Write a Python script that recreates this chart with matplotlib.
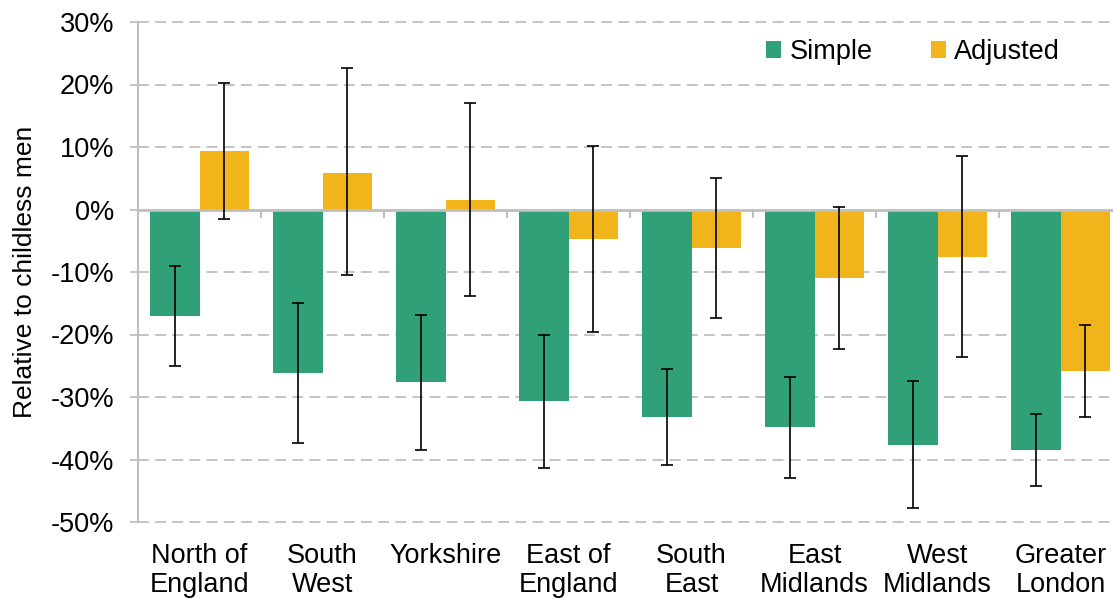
import matplotlib
matplotlib.use("Agg")
import matplotlib.pyplot as plt
import numpy as np

plt.rcParams['font.family'] = ['Liberation Sans', 'DejaVu Sans']

categories = ["North of\nEngland", "South\nWest", "Yorkshire", "East of\nEngland",
              "South\nEast", "East\nMidlands", "West\nMidlands", "Greater\nLondon"]
simple = [-17.0, -26.1, -27.6, -30.6, -33.2, -34.8, -37.7, -38.5]
simple_hi = [-9.0, -14.9, -16.8, -20.0, -25.5, -26.8, -27.4, -32.7]
simple_lo = [-25.0, -37.4, -38.4, -41.4, -40.9, -42.9, -47.8, -44.3]
adjusted = [9.3, 5.9, 1.6, -4.7, -6.1, -10.9, -7.6, -25.8]
adjusted_hi = [20.3, 22.6, 17.1, 10.2, 5.0, 0.4, 8.5, -18.4]
adjusted_lo = [-1.5, -10.5, -13.8, -19.6, -17.3, -22.3, -23.6, -33.2]
yticks = [30, 20, 10, 0, -10, -20, -30, -40, -50]

GREEN = "#30A077"
YELLOW = "#F1B51B"
GRID = "#BFBFBF"
FS = 19.5

W, H = 1113, 598
fig = plt.figure(figsize=(W/100, H/100), dpi=100)
left, right, top, bottom = 138, 1122, 22, 522
ax = fig.add_axes([left/W, 1-bottom/H, (right-left)/W, (bottom-top)/H])

x = np.arange(len(categories))
bw = 0.4
s = np.array(simple); a = np.array(adjusted)
ax.bar(x-bw/2, s, bw, color=GREEN, label="Simple", zorder=2)
ax.bar(x+bw/2, a, bw, color=YELLOW, label="Adjusted", zorder=2)

ax.errorbar(x-bw/2, s, yerr=[s-np.array(simple_lo), np.array(simple_hi)-s], fmt='none',
            ecolor='black', elinewidth=1.2, capsize=4.3, capthick=1.2, zorder=4)
ax.errorbar(x+bw/2, a, yerr=[a-np.array(adjusted_lo), np.array(adjusted_hi)-a], fmt='none',
            ecolor='black', elinewidth=1.2, capsize=4.3, capthick=1.2, zorder=4)

ax.set_xlim(-0.5, len(categories)-0.5)
ax.set_ylim(-50, 30)
ax.set_yticks(yticks)
ax.set_yticklabels([f"{t}%" for t in yticks])
for t in yticks:
    if t != 0:
        ax.axhline(t, color=GRID, lw=1.3, ls=(0, (6, 3.5)), zorder=1, clip_on=False)
ax.axhline(0, color=GRID, lw=2, zorder=3)
# category boundary ticks hanging from the zero line
bounds = np.arange(len(categories)+1) - 0.5
ax.vlines(bounds[1:], -1.3, 0, color=GRID, lw=1.5, zorder=3)

for sp in ['top', 'right', 'bottom']:
    ax.spines[sp].set_visible(False)
ax.spines['left'].set_color(GRID)
ax.spines['left'].set_linewidth(1.5)

ax.set_xticks(x)
ax.set_xticklabels(categories, fontsize=FS, linespacing=1.15)
ax.tick_params(axis='x', length=0, pad=15)
ax.tick_params(axis='y', length=6, color=GRID, width=1.3, labelsize=FS, pad=11)
ax.set_ylabel("Relative to childless men", fontsize=19, labelpad=10)

leg = fig.legend(loc='center', bbox_to_anchor=(913/W, 1-52/H), ncol=2, frameon=False,
                 fontsize=FS, handlelength=0.55, handleheight=0.55, handletextpad=0.3,
                 columnspacing=2.15, borderpad=0)

fig.savefig("out.png", dpi=100)
